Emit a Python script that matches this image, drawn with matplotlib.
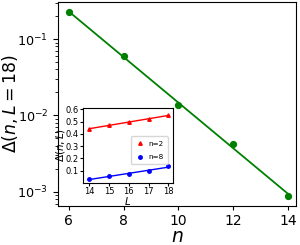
import numpy as np
import matplotlib
matplotlib.use("Agg")
import matplotlib.pyplot as plt

n_vals = [6, 8, 10, 12, 14]
gap_L18 = [0.225, 0.0605, 0.0135, 0.0042, 0.00089]

L_vals = [14, 15, 16, 17, 18]
gap_n2 = [0.44, 0.47, 0.50, 0.52, 0.55]
gap_n8 = [0.032, 0.054, 0.073, 0.100, 0.135]

fig = plt.figure(figsize=(3.0, 2.45), dpi=100)
ax = fig.add_axes([0.193, 0.159, 0.794, 0.833])

n = np.array(n_vals)
g = np.array(gap_L18)
p = np.polyfit(n, np.log(g), 1)
nn = np.linspace(6, 14, 50)
ax.semilogy(nn, np.exp(np.polyval(p, nn)), color='green', lw=1.3)
ax.semilogy(n, g, 'o', color='green', ms=4.2)
ax.set_xlim(5.6, 14.3)
ax.set_ylim(6.5e-4, 0.306)
ax.set_xticks([6, 8, 10, 12, 14])
ax.tick_params(axis='x', labelsize=10, length=3, pad=2.5)
ax.tick_params(axis='y', labelsize=9.2)
ax.set_xlabel(r'$n$', fontsize=13.5)
ax.set_ylabel(r'$\Delta(n, L=18)$', fontsize=12.5)
ax.yaxis.set_label_coords(-0.158, 0.5)
ax.xaxis.set_label_coords(0.5, -0.105)

ins = fig.add_axes([0.276, 0.254, 0.30, 0.304])
L = np.array(L_vals)
for vals, col, mk, lab, ms in [(gap_n2, 'red', '^', 'n=2', 2.5), (gap_n8, 'blue', 'o', 'n=8', 2.5)]:
    v = np.array(vals)
    q = np.polyfit(L, v, 1)
    LL = np.linspace(14, 18, 20)
    ins.plot(LL, np.polyval(q, LL), color=col, lw=1.0)
    ins.plot(L, v, mk, color=col, ms=ms, label=lab)
ins.set_xlim(13.67, 18.22)
ins.set_ylim(0.002, 0.608)
ins.set_xticks([14, 15, 16, 17, 18])
ins.set_yticks([0.1, 0.2, 0.3, 0.4, 0.5, 0.6])
ins.tick_params(labelsize=6, length=2, pad=1)
ins.set_xlabel(r'$L$', fontsize=7.5, labelpad=-1)
ins.set_ylabel(r'$\Delta(n, L)$', fontsize=7.5, labelpad=-1)
ins.legend(loc='upper right', bbox_to_anchor=(0.985, 0.67), fontsize=5.2,
           handletextpad=0.6, handlelength=1.2, borderpad=0.6, labelspacing=1.0)

fig.savefig('out.png', dpi=100)
